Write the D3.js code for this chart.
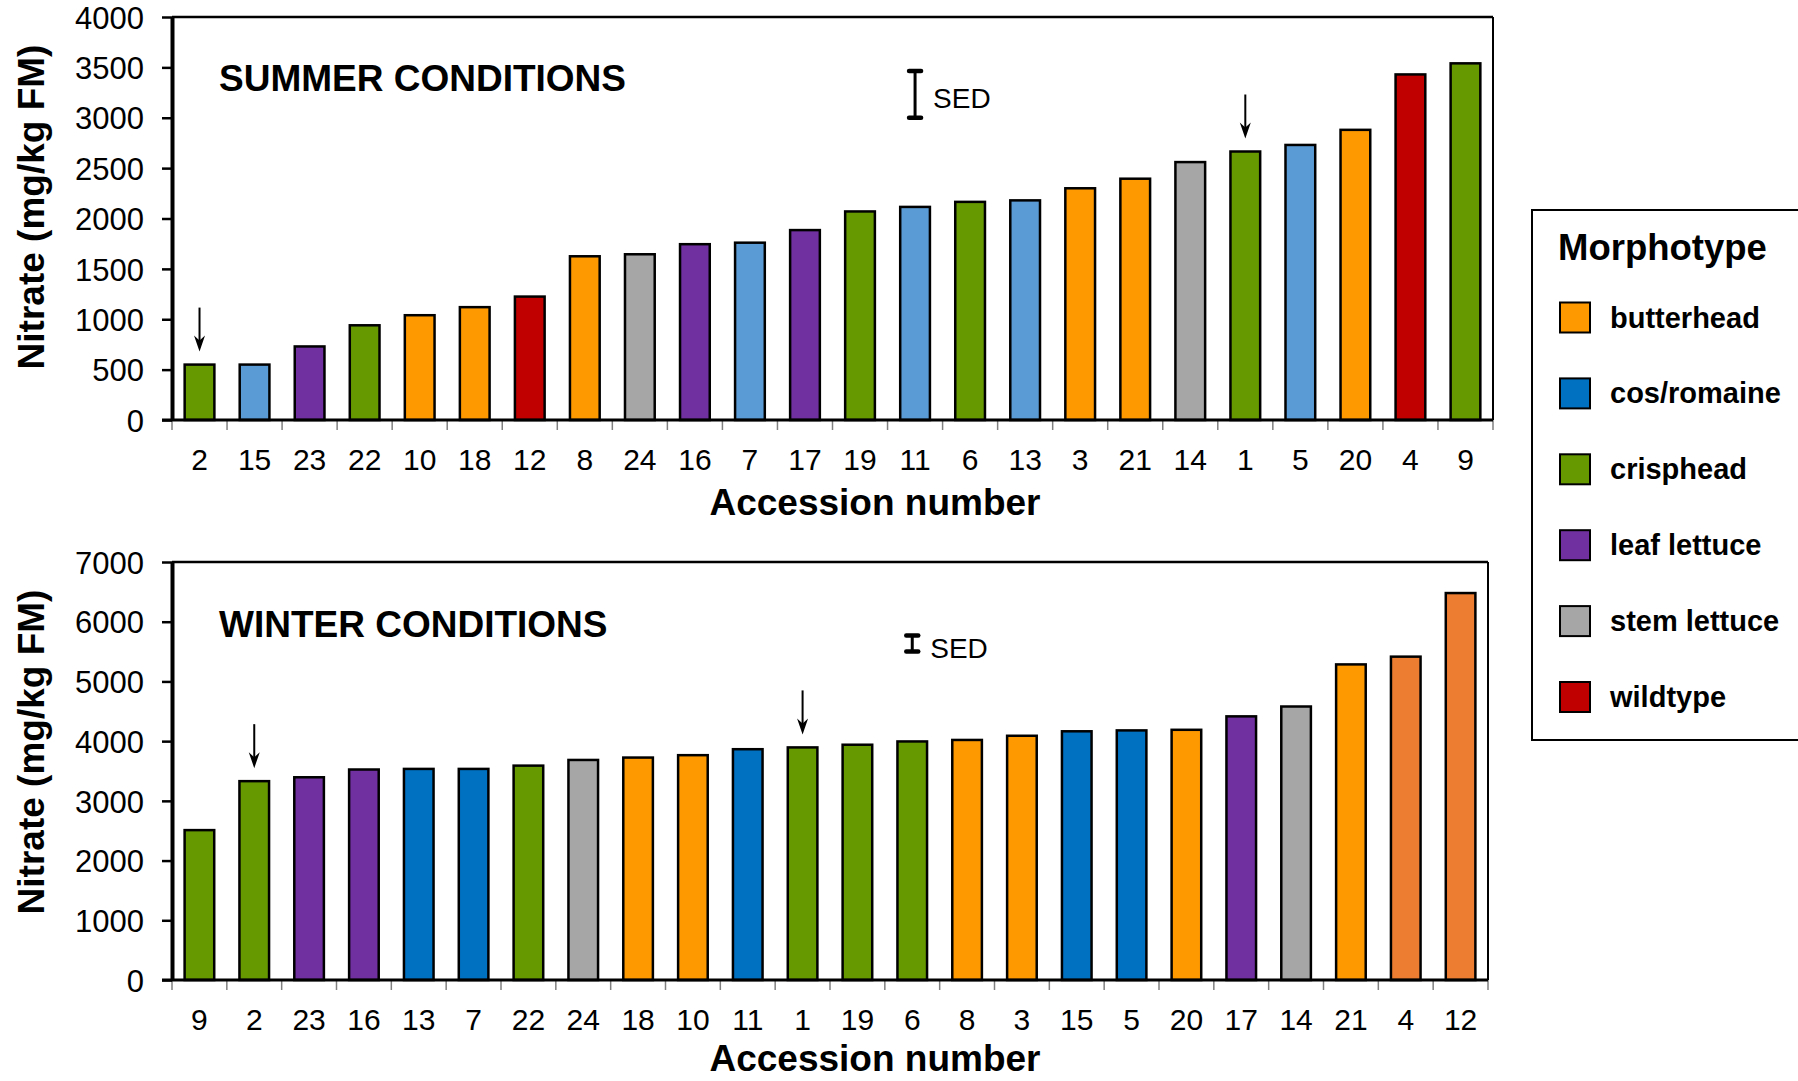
<!DOCTYPE html>
<html>
<head>
<meta charset="utf-8">
<script src="https://cdn.jsdelivr.net/npm/d3@7"></script>
<style>
  body { margin: 0; background: #fff; }
  text { font-family: "Liberation Sans", Arial, Helvetica, sans-serif; fill: #000; }
</style>
</head>
<body>
<svg id="chart" width="1798" height="1081"></svg>
<script>
// ---------------- DATA ----------------
const summerAccessions = ["2","15","23","22","10","18","12","8","24","16","7","17","19","11","6","13","3","21","14","1","5","20","4","9"];
const summerValues = [550,550,730,940,1040,1120,1225,1625,1645,1745,1760,1885,2070,2115,2165,2180,2300,2395,2560,2665,2730,2880,3430,3540];
const summerTypes = ["crisphead","cos/romaine","leaf lettuce","crisphead","butterhead","butterhead","wildtype","butterhead","stem lettuce","leaf lettuce","cos/romaine","leaf lettuce","crisphead","cos/romaine","crisphead","cos/romaine","butterhead","butterhead","stem lettuce","crisphead","cos/romaine","butterhead","wildtype","crisphead"];

const winterAccessions = ["9","2","23","16","13","7","22","24","18","10","11","1","19","6","8","3","15","5","20","17","14","21","4","12"];
const winterValues = [2510,3330,3395,3525,3535,3535,3590,3685,3725,3765,3865,3895,3940,3995,4020,4090,4165,4180,4190,4415,4580,5285,5415,6480];
const winterTypes = ["crisphead","crisphead","leaf lettuce","leaf lettuce","cos/romaine","cos/romaine","crisphead","stem lettuce","butterhead","butterhead","cos/romaine","crisphead","crisphead","crisphead","butterhead","butterhead","cos/romaine","cos/romaine","butterhead","leaf lettuce","stem lettuce","butterhead","wildtype","wildtype"];

const summerYTicks = [0,500,1000,1500,2000,2500,3000,3500,4000];
const winterYTicks = [0,1000,2000,3000,4000,5000,6000,7000];

const morphotypes = ["butterhead","cos/romaine","crisphead","leaf lettuce","stem lettuce","wildtype"];

const summerSED = 465;
const winterSED = 270;
const markedAccessions = ["2","1"];

// ---------------- STYLE ----------------
const legendColors = {"butterhead":"#FF9900","cos/romaine":"#0070C0","crisphead":"#669900","leaf lettuce":"#7030A0","stem lettuce":"#A6A6A6","wildtype":"#C00000"};
const summerPalette = Object.assign({}, legendColors, {"cos/romaine":"#5B9BD5"});
const winterPalette = Object.assign({}, legendColors, {"wildtype":"#ED7D31"});

const svg = d3.select("#chart");

function drawPanel(cfg) {
  const g = svg.append("g");
  const x = d3.scaleBand().domain(cfg.cats).range([cfg.x0, cfg.x1]).paddingInner(0.46).paddingOuter(0.23);
  const y = d3.scaleLinear().domain([0, cfg.max]).range([cfg.yZero, cfg.yTop]);
  const data = cfg.cats.map((c, i) => ({c, v: cfg.vals[i], t: cfg.types[i]}));

  // bars
  g.selectAll("rect.bar").data(data).join("rect")
    .attr("class", "bar")
    .attr("x", d => x(d.c))
    .attr("y", d => y(d.v))
    .attr("width", x.bandwidth())
    .attr("height", d => y(0) - y(d.v))
    .attr("fill", d => cfg.palette[d.t])
    .attr("stroke", "#000")
    .attr("stroke-width", 2.5);

  // frame: top and right
  g.append("line").attr("x1", cfg.x0).attr("x2", cfg.x1).attr("y1", cfg.yTop).attr("y2", cfg.yTop)
    .attr("stroke", "#000").attr("stroke-width", 2.5);
  g.append("line").attr("x1", cfg.x1).attr("x2", cfg.x1).attr("y1", cfg.yTop).attr("y2", cfg.yZero)
    .attr("stroke", "#000").attr("stroke-width", 2);

  // boundary ticks on x axis
  const bounds = d3.range(cfg.cats.length + 1).map(i => cfg.x0 + i * x.step());
  g.selectAll("line.xt").data(bounds).join("line")
    .attr("class", "xt")
    .attr("x1", d => d).attr("x2", d => d)
    .attr("y1", cfg.yZero).attr("y2", cfg.yZero + 10)
    .attr("stroke", "#808080").attr("stroke-width", 1.5);

  // y axis
  const ya = d3.axisLeft(y).tickValues(cfg.yticks).tickSize(10).tickSizeOuter(0).tickPadding(18).tickFormat(d3.format("d"));
  const yg = g.append("g").attr("transform", `translate(${cfg.x0},0)`).call(ya);
  yg.select(".domain").attr("stroke-width", 4).attr("stroke", "#000");
  yg.selectAll(".tick line").attr("stroke-width", 2.5).attr("stroke", "#000");
  yg.selectAll(".tick text").attr("font-size", 31).attr("dy", "0.36em")
    .style("font-family", '"Liberation Sans", Arial, sans-serif').attr("fill", "#000");

  // zero line
  g.append("line").attr("x1", cfg.x0 - 10).attr("x2", cfg.x1).attr("y1", cfg.yZero).attr("y2", cfg.yZero)
    .attr("stroke", "#000").attr("stroke-width", 3);

  // x labels
  const xa = d3.axisBottom(x).tickSize(0).tickPadding(0);
  const xg = g.append("g").attr("transform", `translate(0,${cfg.yZero})`).call(xa);
  xg.select(".domain").remove();
  xg.selectAll(".tick text").attr("font-size", 30).attr("y", 50).attr("dy", 0)
    .style("font-family", '"Liberation Sans", Arial, sans-serif').attr("fill", "#000");

  // axis titles
  g.append("text").attr("x", 875).attr("y", cfg.xTitleY).attr("text-anchor", "middle")
    .attr("font-size", 37).attr("font-weight", "bold").text("Accession number");
  g.append("text").attr("transform", `translate(44,${cfg.yTitleCenter}) rotate(-90)`)
    .attr("text-anchor", "middle").attr("font-size", 37).attr("font-weight", "bold")
    .text("Nitrate (mg/kg FM)");

  // panel title
  g.append("text").attr("x", cfg.x0 + 47).attr("y", cfg.titleY).attr("font-size", 37).attr("font-weight", "bold")
    .text(cfg.title);

  // SED bar
  const sx = x(cfg.cats[13]) + x.bandwidth() / 2;
  const sy0 = y(cfg.sedBase), sy1 = y(cfg.sedBase + cfg.sed);
  g.append("line").attr("x1", sx).attr("x2", sx).attr("y1", sy0).attr("y2", sy1)
    .attr("stroke", "#000").attr("stroke-width", 3);
  [sy0, sy1].forEach(yy => {
    g.append("line").attr("x1", sx - 6).attr("x2", sx + 6).attr("y1", yy).attr("y2", yy)
      .attr("stroke", "#000").attr("stroke-width", 4.5).attr("stroke-linecap", "round");
  });
  g.append("text").attr("x", sx + 18).attr("y", (sy0 + sy1) / 2 + 14).attr("font-size", 28).text("SED");

  // arrows
  markedAccessions.forEach(c => {
    const i = cfg.cats.indexOf(c);
    const cx = x(c) + x.bandwidth() / 2;
    const tip = y(cfg.vals[i]) - 13;
    g.append("line").attr("x1", cx).attr("x2", cx).attr("y1", tip - 44).attr("y2", tip - 8)
      .attr("stroke", "#000").attr("stroke-width", 2);
    g.append("path").attr("d", `M${cx - 5.5},${tip - 16} L${cx},${tip} L${cx + 5.5},${tip - 16} L${cx},${tip - 11} Z`)
      .attr("fill", "#000");
  });
}

drawPanel({
  cats: summerAccessions, vals: summerValues, types: summerTypes, palette: summerPalette,
  yticks: summerYTicks, max: 4000, x0: 172, x1: 1493, yTop: 17, yZero: 420,
  yTitleCenter: 207, title: "SUMMER CONDITIONS", titleY: 91, xTitleY: 515, sed: summerSED, sedBase: 3000
});
drawPanel({
  cats: winterAccessions, vals: winterValues, types: winterTypes, palette: winterPalette,
  yticks: winterYTicks, max: 7000, x0: 172, x1: 1488, yTop: 562, yZero: 980,
  yTitleCenter: 752, title: "WINTER CONDITIONS", titleY: 637, xTitleY: 1071, sed: winterSED, sedBase: 5500
});

// legend
const lg = svg.append("g");
lg.append("rect").attr("x", 1532).attr("y", 210).attr("width", 300).attr("height", 530)
  .attr("fill", "#fff").attr("stroke", "#000").attr("stroke-width", 2);
lg.append("text").attr("x", 1558).attr("y", 260).attr("font-size", 36.5).attr("font-weight", "bold").text("Morphotype");
const ly = d3.scaleLinear().domain([0, morphotypes.length - 1]).range([317.5, 697]);
morphotypes.forEach((m, i) => {
  lg.append("rect").attr("x", 1560).attr("y", ly(i) - 15).attr("width", 30).attr("height", 30)
    .attr("fill", legendColors[m]).attr("stroke", "#000").attr("stroke-width", 2);
  lg.append("text").attr("x", 1610).attr("y", ly(i) + 10).attr("font-size", 29).attr("font-weight", "bold").text(m);
});
</script>
</body>
</html>
